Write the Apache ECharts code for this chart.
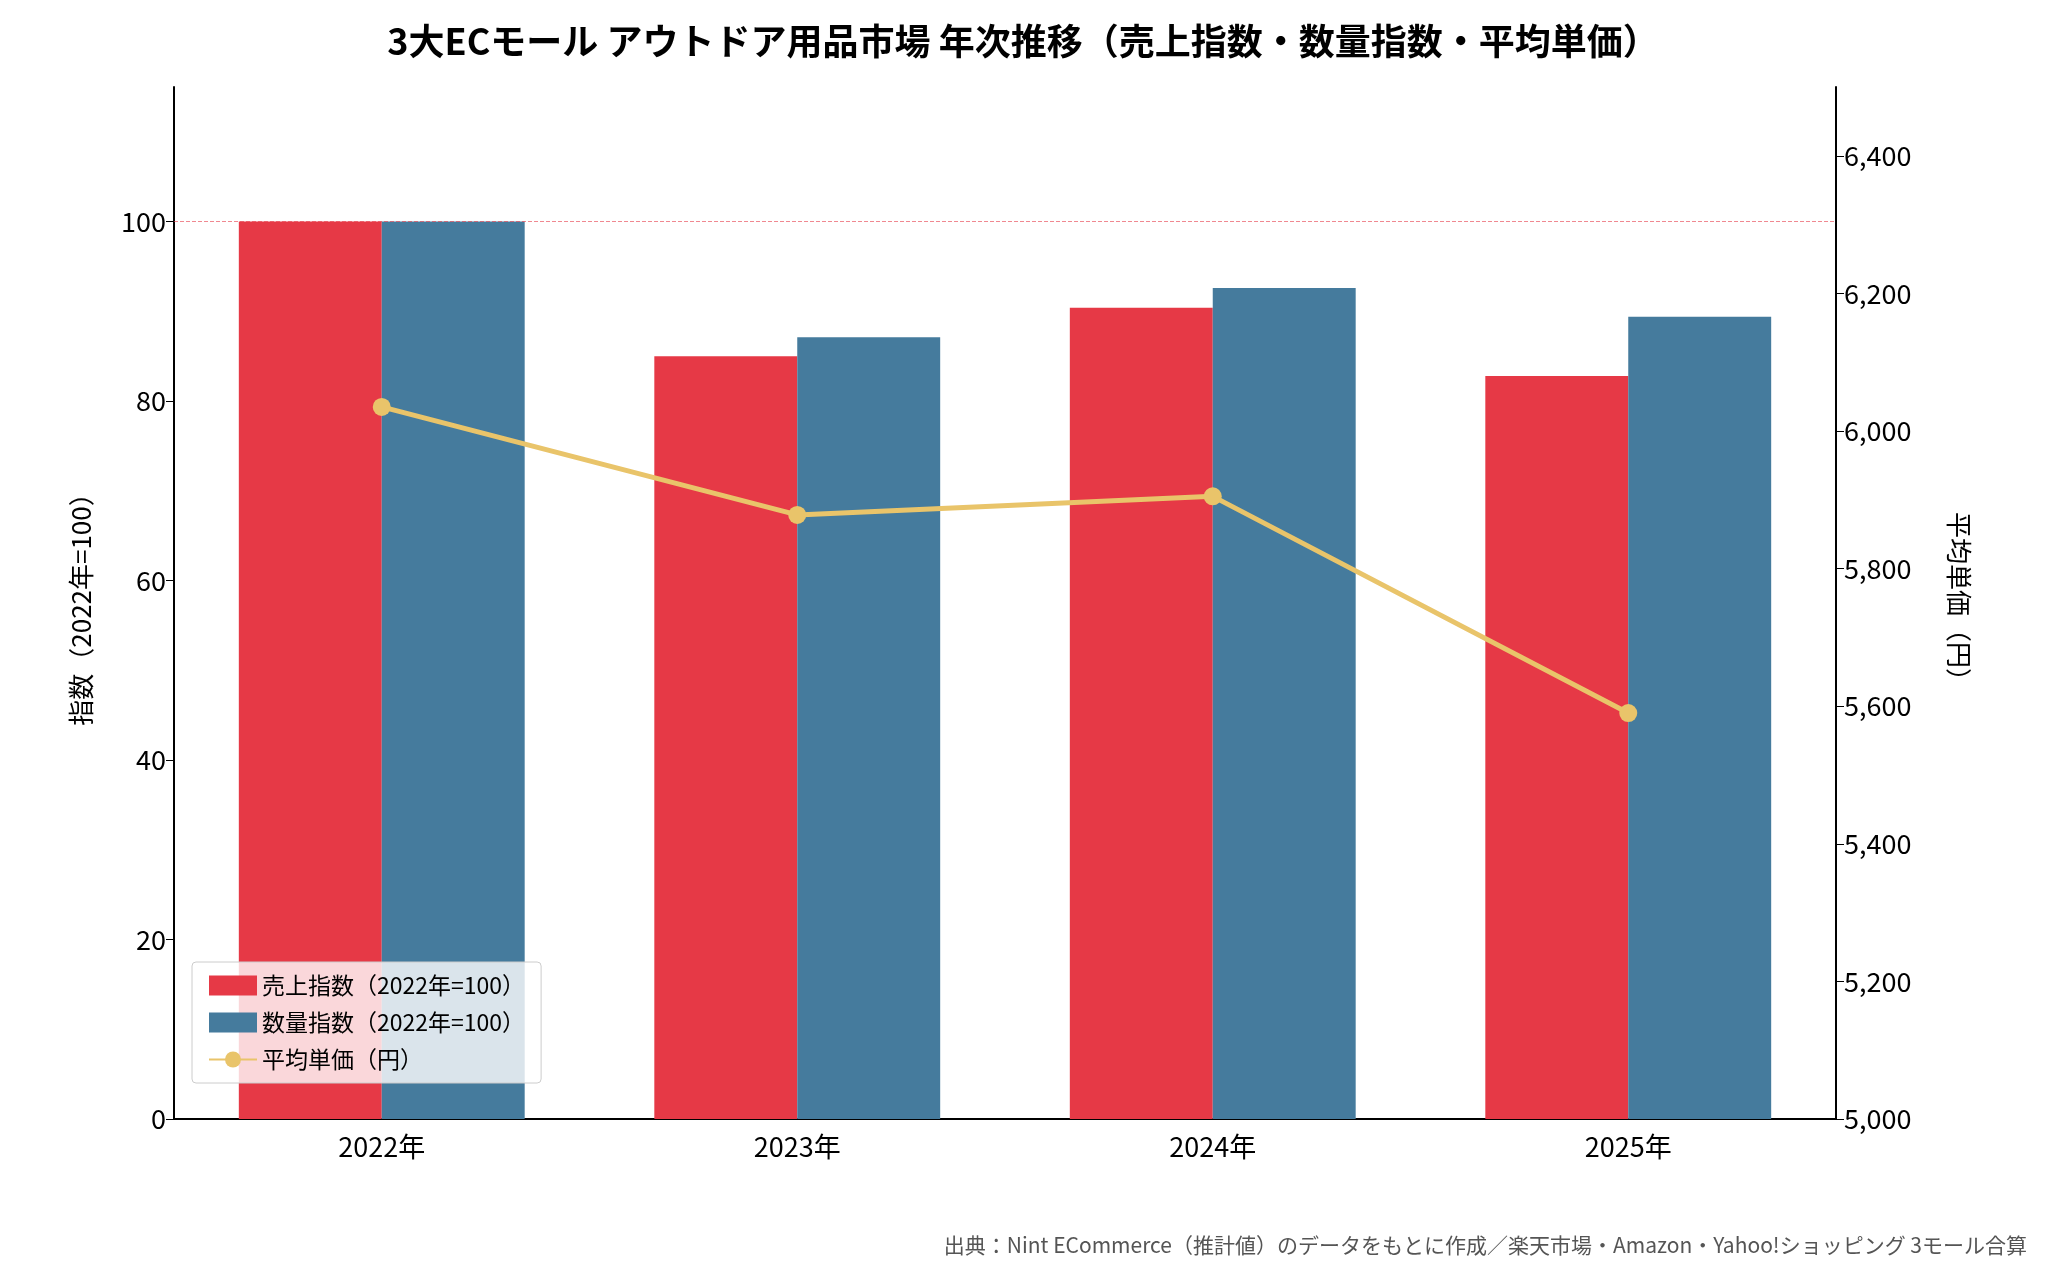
<!DOCTYPE html>
<html>
<head>
<meta charset="utf-8">
<script src="https://cdn.jsdelivr.net/npm/echarts@6/dist/echarts.min.js"></script>
<style>html,body{margin:0;padding:0;background:#fff}#chart{width:2046px;height:1273px}</style>
</head>
<body>
<div id="chart"></div>
<script>
var years = ['2022年', '2023年', '2024年', '2025年'];
var salesIndex = [100, 85.0, 90.4, 82.8];
var qtyIndex = [100, 87.1, 92.6, 89.4];
var avgPrice = [6035, 5878, 5905, 5590];

var font = '"Noto Sans CJK JP", "DejaVu Sans", sans-serif';
var chart = echarts.init(document.getElementById('chart'));

var option = {
  textStyle: { fontFamily: font },
  title: [{
    text: '3大ECモール アウトドア用品市場 年次推移（売上指数・数量指数・平均単価）',
    left: 'center', top: 18,
    textStyle: { fontSize: 36, fontWeight: 'bold', color: '#000', fontFamily: font }
  }, {
    text: '出典：Nint ECommerce（推計値）のデータをもとに作成／楽天市場・Amazon・Yahoo!ショッピング 3モール合算',
    right: 14, bottom: 12,
    textStyle: { fontSize: 21, fontWeight: 'normal', color: '#555', fontFamily: font }
  }],
  legend: {
    left: 192, top: 962, orient: 'vertical',
    itemWidth: 48, itemHeight: 20, itemGap: 14,
    padding: [12, 16], borderColor: '#ccc', borderWidth: 1, borderRadius: 4,
    backgroundColor: 'rgba(255,255,255,0.8)',
    textStyle: { fontSize: 23, color: '#000', fontFamily: font },
    data: [
      { name: '売上指数（2022年=100）', icon: 'rect' },
      { name: '数量指数（2022年=100）', icon: 'rect' },
      { name: '平均単価（円）' }
    ]
  },
  grid: { left: 174, right: 210, top: 87, bottom: 154 },
  xAxis: {
    type: 'category', data: years,
    axisLine: { lineStyle: { color: '#000', width: 2 } },
    axisTick: { alignWithLabel: true, length: 8, lineStyle: { color: '#000' } },
    axisLabel: { fontSize: 27, color: '#000', margin: 14 }
  },
  yAxis: [{
    type: 'value', min: 0, max: 115, interval: 20,
    name: '指数（2022年=100）', nameLocation: 'middle', nameGap: 80, nameRotate: 90,
    nameTextStyle: { fontSize: 26, color: '#000' },
    axisLine: { show: true, lineStyle: { color: '#000', width: 2 } },
    axisTick: { show: true, length: 8, lineStyle: { color: '#000' } },
    axisLabel: { fontSize: 27, color: '#000', showMaxLabel: false },
    splitLine: { show: false }
  }, {
    type: 'value', min: 5000, max: 6500, interval: 200,
    name: '平均単価（円）', nameLocation: 'middle', nameGap: 110, nameRotate: -90,
    nameTextStyle: { fontSize: 26, color: '#000' },
    axisLine: { show: true, lineStyle: { color: '#000', width: 2 } },
    axisTick: { show: true, length: 8, lineStyle: { color: '#000' } },
    axisLabel: { fontSize: 27, color: '#000', showMaxLabel: false },
    splitLine: { show: false }
  }],
  series: [{
    name: '売上指数（2022年=100）', type: 'bar', data: salesIndex,
    barWidth: '34.4%', barGap: '0%',
    itemStyle: { color: '#e63946' },
    markLine: {
      silent: true, symbol: 'none', label: { show: false },
      lineStyle: { color: '#e63946', type: 'dashed', width: 1, opacity: 0.6 },
      data: [{ yAxis: 100 }]
    }
  }, {
    name: '数量指数（2022年=100）', type: 'bar', data: qtyIndex,
    barWidth: '34.4%', barGap: '0%',
    itemStyle: { color: '#457b9d' }
  }, {
    name: '平均単価（円）', type: 'line', yAxisIndex: 1, data: avgPrice,
    symbol: 'circle', symbolSize: 18,
    lineStyle: { color: '#e9c46a', width: 5 },
    itemStyle: { color: '#e9c46a' },
    z: 5
  }]
};
chart.setOption(option);
</script>
</body>
</html>
